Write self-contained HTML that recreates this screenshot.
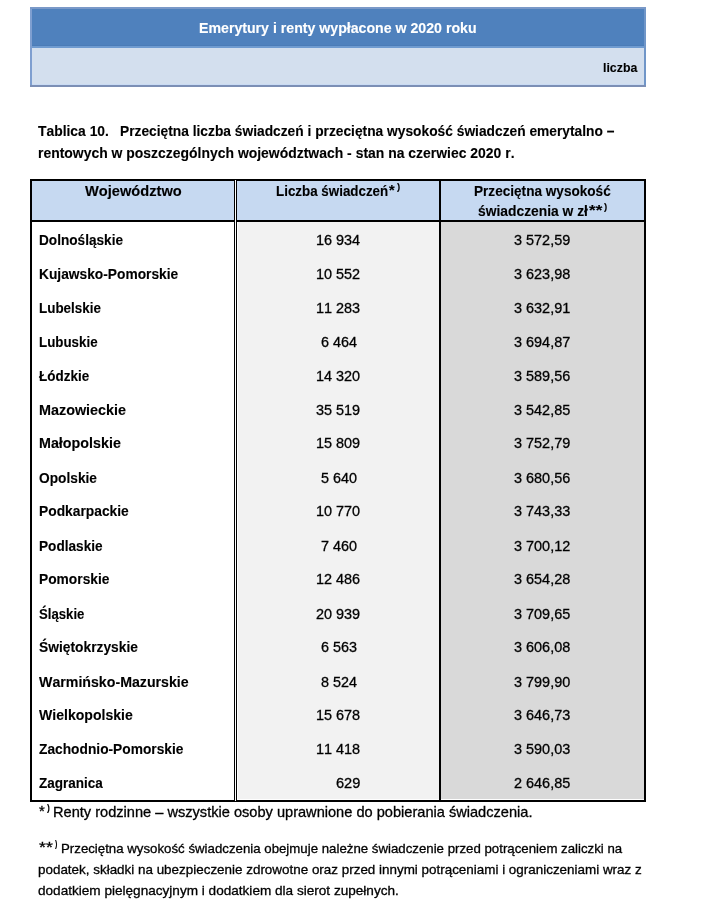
<!DOCTYPE html>
<html lang="pl"><head><meta charset="utf-8"><title>Emerytury i renty wypłacone w 2020 roku</title>
<style>
*{margin:0;padding:0;box-sizing:border-box}
html,body{width:724px;height:913px;background:#fff;overflow:hidden}
body{position:relative;font-family:"Liberation Sans",sans-serif;color:#000;font-kerning:none;font-variant-ligatures:none}
header,h1,h2,p,table,thead,tbody,tr,th,td,sup,span{display:block;font-size:inherit;font-weight:normal;text-align:left;border:0;vertical-align:baseline}
.t{position:absolute;white-space:pre;line-height:20px;transform-origin:0 50%;-webkit-text-stroke:0.3px currentColor}
.b{font-weight:bold;-webkit-text-stroke-width:0.12px}
.box{position:absolute}
</style></head><body>
<header>
<div class="box" style="left:30px;top:7px;width:616px;height:79.8px;background:#7a99c8"></div>
<div class="box" style="left:30px;top:9px;width:2px;height:76px;background:#7f9fd0"></div>
<div class="box" style="left:644px;top:9px;width:2px;height:76px;background:#7096c8"></div>
<div class="box" style="left:30px;top:85px;width:616px;height:1.8px;background:#7c8fb5"></div>
<div class="box" style="left:32px;top:9px;width:612px;height:37px;background:#4f81bd"></div>
<div class="box" style="left:32px;top:44.5px;width:612px;height:1.5px;background:#4b7cb7"></div>
<div class="box" style="left:32px;top:46px;width:612px;height:1.6px;background:#6f9bd0"></div>
<div class="box" style="left:32px;top:47.6px;width:612px;height:37.4px;background:#d3dfee"></div>
<div class="box" style="left:32px;top:83.7px;width:612px;height:1.3px;background:#c9dbf4"></div>
<h1 class="t b" id="title" style="left:198.81px;top:18.00px;font-size:14.6px;color:#fff;transform:scaleX(0.9694)">Emerytury i renty wypłacone w 2020 roku</h1>
<span class="t b" id="liczba" style="left:603.47px;top:58.00px;font-size:13.38px;transform:scaleX(0.9221)">liczba</span>
</header>
<h2><span class="t b" id="cap1a" style="left:38.45px;top:121.00px;font-size:14.6px;transform:scaleX(0.9505)">Tablica 10.</span><span class="t b" id="cap1b" style="left:120.01px;top:121.00px;font-size:14.6px;transform:scaleX(0.9435)">Przeciętna liczba świadczeń i przeciętna wysokość świadczeń emerytalno –</span>
<span class="t b" id="cap2" style="left:38.08px;top:143.00px;font-size:14.6px;transform:scaleX(0.9554)">rentowych w poszczególnych województwach - stan na czerwiec 2020 r.</span></h2>
<div class="box" style="left:30px;top:179px;width:616px;height:623px;background:#000"></div>
<div class="box" style="left:32px;top:181px;width:202px;height:39px;background:#c6d9f1"></div>
<div class="box" style="left:237px;top:181px;width:202px;height:39px;background:#c6d9f1"></div>
<div class="box" style="left:441px;top:181px;width:203px;height:39px;background:#c6d9f1"></div>
<div class="box" style="left:32px;top:222px;width:202px;height:578px;background:#fff"></div>
<div class="box" style="left:237px;top:222px;width:202px;height:578px;background:#fff"></div>
<div class="box" style="left:238px;top:222px;width:200.7px;height:577px;background:#f2f2f2"></div>
<div class="box" style="left:441px;top:222px;width:203px;height:578px;background:#fff"></div>
<div class="box" style="left:441.3px;top:222px;width:202.7px;height:577px;background:#d9d9d9"></div>
<div class="box" style="left:235px;top:180px;width:1px;height:621px;background:#fff"></div>
<table>
<thead><tr>
<th><span class="t b" id="h1" style="left:85.22px;top:181.00px;font-size:14.6px;transform:scaleX(1.0029)">Województwo</span></th>
<th><span class="t b" id="h2" style="left:276.11px;top:181.00px;font-size:14.6px;transform:scaleX(0.9163)">Liczba świadczeń</span><sup class="t b" id="h2s" style="left:389.36px;top:180.17px;font-size:14.78px;transform:scaleX(0.9833)">*</sup><sup class="t b" id="h2p" style="left:396.69px;top:176.84px;font-size:9.44px;transform:scaleX(1.0133)">)</sup></th>
<th><span class="t b" id="h3a" style="left:473.86px;top:181.00px;font-size:14.6px;transform:scaleX(0.9313)">Przeciętna wysokość</span><span class="t b" id="h3b" style="left:477.58px;top:201.00px;font-size:14.6px;transform:scaleX(0.9478)">świadczenia w zł</span><sup class="t b" id="h3s" style="left:589.15px;top:200.17px;font-size:14.78px;transform:scaleX(1.1531)">**</sup><sup class="t b" id="h3p" style="left:604.19px;top:196.86px;font-size:9.33px;transform:scaleX(1.0250)">)</sup></th>
</tr></thead>
<tbody>
<tr><th><span class="t b" id="r0a" style="left:38.70px;top:230.00px;font-size:14.6px;transform:scaleX(0.9333)">Dolnośląskie</span></th><td><span class="t" id="r0b" style="left:315.70px;top:230.00px;font-size:14.6px;transform:scaleX(0.9890)">16 934</span></td><td><span class="t" id="r0c" style="left:514.30px;top:230.00px;font-size:14.6px;transform:scaleX(0.9900)">3 572,59</span></td></tr>
<tr><th><span class="t b" id="r1a" style="left:38.70px;top:264.00px;font-size:14.6px;transform:scaleX(0.9432)">Kujawsko-Pomorskie</span></th><td><span class="t" id="r1b" style="left:315.70px;top:264.00px;font-size:14.6px;transform:scaleX(0.9890)">10 552</span></td><td><span class="t" id="r1c" style="left:514.30px;top:264.00px;font-size:14.6px;transform:scaleX(0.9900)">3 623,98</span></td></tr>
<tr><th><span class="t b" id="r2a" style="left:38.70px;top:298.00px;font-size:14.6px;transform:scaleX(0.9201)">Lubelskie</span></th><td><span class="t" id="r2b" style="left:315.70px;top:298.00px;font-size:14.6px;transform:scaleX(0.9890)">11 283</span></td><td><span class="t" id="r2c" style="left:514.30px;top:298.00px;font-size:14.6px;transform:scaleX(0.9900)">3 632,91</span></td></tr>
<tr><th><span class="t b" id="r3a" style="left:38.70px;top:332.00px;font-size:14.6px;transform:scaleX(0.9139)">Lubuskie</span></th><td><span class="t" id="r3b" style="left:321.20px;top:332.00px;font-size:14.6px;transform:scaleX(0.9868)">6 464</span></td><td><span class="t" id="r3c" style="left:514.30px;top:332.00px;font-size:14.6px;transform:scaleX(0.9900)">3 694,87</span></td></tr>
<tr><th><span class="t b" id="r4a" style="left:38.70px;top:366.00px;font-size:14.6px;transform:scaleX(0.9224)">Łódzkie</span></th><td><span class="t" id="r4b" style="left:315.70px;top:366.00px;font-size:14.6px;transform:scaleX(0.9890)">14 320</span></td><td><span class="t" id="r4c" style="left:514.30px;top:366.00px;font-size:14.6px;transform:scaleX(0.9900)">3 589,56</span></td></tr>
<tr><th><span class="t b" id="r5a" style="left:38.70px;top:400.00px;font-size:14.6px;transform:scaleX(0.9849)">Mazowieckie</span></th><td><span class="t" id="r5b" style="left:315.70px;top:400.00px;font-size:14.6px;transform:scaleX(0.9890)">35 519</span></td><td><span class="t" id="r5c" style="left:514.30px;top:400.00px;font-size:14.6px;transform:scaleX(0.9900)">3 542,85</span></td></tr>
<tr><th><span class="t b" id="r6a" style="left:38.70px;top:433.00px;font-size:14.6px;transform:scaleX(0.9797)">Małopolskie</span></th><td><span class="t" id="r6b" style="left:315.70px;top:433.00px;font-size:14.6px;transform:scaleX(0.9890)">15 809</span></td><td><span class="t" id="r6c" style="left:514.30px;top:433.00px;font-size:14.6px;transform:scaleX(0.9900)">3 752,79</span></td></tr>
<tr><th><span class="t b" id="r7a" style="left:38.70px;top:468.00px;font-size:14.6px;transform:scaleX(0.9403)">Opolskie</span></th><td><span class="t" id="r7b" style="left:321.20px;top:468.00px;font-size:14.6px;transform:scaleX(0.9868)">5 640</span></td><td><span class="t" id="r7c" style="left:514.30px;top:468.00px;font-size:14.6px;transform:scaleX(0.9900)">3 680,56</span></td></tr>
<tr><th><span class="t b" id="r8a" style="left:38.70px;top:501.00px;font-size:14.6px;transform:scaleX(0.9459)">Podkarpackie</span></th><td><span class="t" id="r8b" style="left:315.70px;top:501.00px;font-size:14.6px;transform:scaleX(0.9890)">10 770</span></td><td><span class="t" id="r8c" style="left:514.30px;top:501.00px;font-size:14.6px;transform:scaleX(0.9900)">3 743,33</span></td></tr>
<tr><th><span class="t b" id="r9a" style="left:38.70px;top:536.00px;font-size:14.6px;transform:scaleX(0.9327)">Podlaskie</span></th><td><span class="t" id="r9b" style="left:321.20px;top:536.00px;font-size:14.6px;transform:scaleX(0.9868)">7 460</span></td><td><span class="t" id="r9c" style="left:514.30px;top:536.00px;font-size:14.6px;transform:scaleX(0.9900)">3 700,12</span></td></tr>
<tr><th><span class="t b" id="r10a" style="left:38.70px;top:569.00px;font-size:14.6px;transform:scaleX(0.9439)">Pomorskie</span></th><td><span class="t" id="r10b" style="left:315.70px;top:569.00px;font-size:14.6px;transform:scaleX(0.9890)">12 486</span></td><td><span class="t" id="r10c" style="left:514.30px;top:569.00px;font-size:14.6px;transform:scaleX(0.9900)">3 654,28</span></td></tr>
<tr><th><span class="t b" id="r11a" style="left:38.70px;top:604.00px;font-size:14.6px;transform:scaleX(0.9028)">Śląskie</span></th><td><span class="t" id="r11b" style="left:315.70px;top:604.00px;font-size:14.6px;transform:scaleX(0.9890)">20 939</span></td><td><span class="t" id="r11c" style="left:514.30px;top:604.00px;font-size:14.6px;transform:scaleX(0.9900)">3 709,65</span></td></tr>
<tr><th><span class="t b" id="r12a" style="left:38.70px;top:637.00px;font-size:14.6px;transform:scaleX(0.9454)">Świętokrzyskie</span></th><td><span class="t" id="r12b" style="left:321.20px;top:637.00px;font-size:14.6px;transform:scaleX(0.9868)">6 563</span></td><td><span class="t" id="r12c" style="left:514.30px;top:637.00px;font-size:14.6px;transform:scaleX(0.9900)">3 606,08</span></td></tr>
<tr><th><span class="t b" id="r13a" style="left:38.70px;top:672.00px;font-size:14.6px;transform:scaleX(0.9714)">Warmińsko-Mazurskie</span></th><td><span class="t" id="r13b" style="left:321.20px;top:672.00px;font-size:14.6px;transform:scaleX(0.9868)">8 524</span></td><td><span class="t" id="r13c" style="left:514.30px;top:672.00px;font-size:14.6px;transform:scaleX(0.9900)">3 799,90</span></td></tr>
<tr><th><span class="t b" id="r14a" style="left:38.70px;top:705.00px;font-size:14.6px;transform:scaleX(0.9640)">Wielkopolskie</span></th><td><span class="t" id="r14b" style="left:315.70px;top:705.00px;font-size:14.6px;transform:scaleX(0.9890)">15 678</span></td><td><span class="t" id="r14c" style="left:514.30px;top:705.00px;font-size:14.6px;transform:scaleX(0.9900)">3 646,73</span></td></tr>
<tr><th><span class="t b" id="r15a" style="left:38.70px;top:739.00px;font-size:14.6px;transform:scaleX(0.9425)">Zachodnio-Pomorskie</span></th><td><span class="t" id="r15b" style="left:315.70px;top:739.00px;font-size:14.6px;transform:scaleX(0.9890)">11 418</span></td><td><span class="t" id="r15c" style="left:514.30px;top:739.00px;font-size:14.6px;transform:scaleX(0.9900)">3 590,03</span></td></tr>
<tr><th><span class="t b" id="r16a" style="left:38.70px;top:773.00px;font-size:14.6px;transform:scaleX(0.9254)">Zagranica</span></th><td><span class="t" id="r16b" style="left:336.00px;top:773.00px;font-size:14.6px;transform:scaleX(0.9987)">629</span></td><td><span class="t" id="r16c" style="left:514.30px;top:773.00px;font-size:14.6px;transform:scaleX(0.9900)">2 646,85</span></td></tr>
</tbody>
</table>
<p><sup class="t" id="f1s" style="left:39.06px;top:801.49px;font-size:14.81px;transform:scaleX(1.0011)">*</sup><sup class="t b" id="f1p" style="left:46.89px;top:797.91px;font-size:9.12px;transform:scaleX(0.9325)">)</sup><span class="t" id="f1b" style="left:52.78px;top:802.00px;font-size:14.6px;transform:scaleX(1.0001)">Renty rodzinne – wszystkie osoby uprawnione do pobierania świadczenia.</span></p>
<p><sup class="t" id="f2s" style="left:39.02px;top:836.69px;font-size:15.1px;transform:scaleX(1.1712)">**</sup><sup class="t b" id="f2p" style="left:54.89px;top:834.44px;font-size:8.48px;transform:scaleX(0.8361)">)</sup><span class="t" id="f2b" style="left:60.77px;top:839.00px;font-size:13.38px;transform:scaleX(0.9907)">Przeciętna wysokość świadczenia obejmuje należne świadczenie przed potrąceniem zaliczki na</span>
<span class="t" id="f2c" style="left:37.85px;top:860.00px;font-size:13.38px;transform:scaleX(1.0037)">podatek, składki na ubezpieczenie zdrowotne oraz przed innymi potrąceniami i ograniczeniami wraz z</span>
<span class="t" id="f2d" style="left:38.31px;top:881.00px;font-size:13.38px;transform:scaleX(1.0153)">dodatkiem pielęgnacyjnym i dodatkiem dla sierot zupełnych.</span></p>
</body></html>
